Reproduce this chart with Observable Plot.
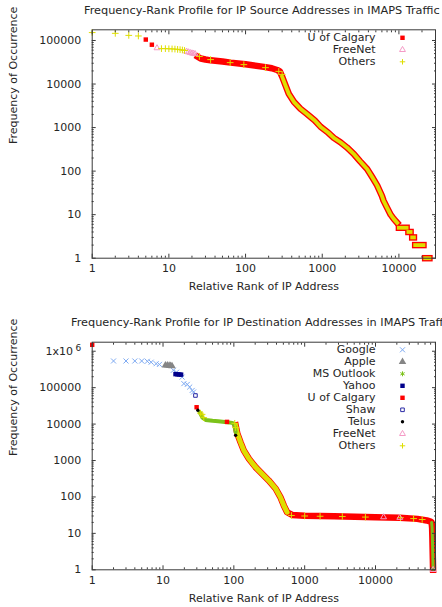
<!DOCTYPE html>
<html><head><meta charset="utf-8">
<script src="https://cdn.jsdelivr.net/npm/d3@7"></script>
<script src="https://cdn.jsdelivr.net/npm/@observablehq/plot@0.6"></script>
<style>
html,body{margin:0;padding:0;background:#fff;overflow:hidden;}
#root{width:442px;overflow:hidden;}
#root svg{display:block;overflow:hidden;}
</style></head><body><div id="root"></div>
<script>
// ---------- Source-address panel ----------
const srcTitle = "Frequency-Rank Profile for IP Source Addresses in IMAPS Traffic";
const srcXTicks = [1, 10, 100, 1000, 10000];
const srcYTicks = [1, 10, 100, 1000, 10000, 100000];
const srcLegend = ["U of Calgary", "FreeNet", "Others"];

const srcCalgaryRank = [5, 6];
const srcCalgaryFreq = [105000, 80000];
const srcFreeNetRank = [7, 17, 18, 19, 20, 21, 22];
const srcFreeNetFreq = [67000, 56000, 54000, 52000, 51000, 50000, 49000];
const srcOthersRank = [1, 2, 3, 4, 8, 9, 10, 11, 12, 13, 14, 15, 16, 25, 35, 63, 95, 182, 271, 300];
const srcOthersFreq = [152000, 146000, 131000, 127000, 65000, 65000, 64500, 64000, 63500, 62500, 61500, 60500, 59000, 43000, 36400, 31000, 27900, 23800, 19500, 16600];
// dense run of overlapping markers (U of Calgary squares under Others crosses)
const srcBandRank = [24, 26, 30, 35, 50, 64, 100, 173, 220, 258, 280, 300, 331, 366, 427, 520, 633, 800, 948, 1200, 1415, 1727, 2100, 2570, 3100, 3850, 4500, 5200, 6000, 6300, 7000, 7800, 8560, 9500,
  10000, 12600, 13300, 14200, 14900, 15700, 16300, 20900, 22000, 25000];
const srcBandFreq = [42000, 38500, 36500, 35000, 33000, 31000, 28500, 24800, 23000, 21000, 19500, 14800, 9400, 6000, 3900, 2700, 2050, 1450, 1050, 760, 580, 460, 350, 250, 170, 112, 72, 47, 27, 21, 14.5, 10, 8, 6.5,
  5, 5, 4, 4, 3, 3, 2, 2, 1, 1];
const srcBandGroup = [0,0,0,0,0,0,0,0,0,0,0,0,0,0,0,0,0,0,0,0,0,0,0,0,0,0,0,0,0,0,0,0,0,0,
  1, 1, 2, 2, 3, 3, 4, 4, 5, 5];

// ---------- Destination-address panel ----------
const dstTitle = "Frequency-Rank Profile for IP Destination Addresses in IMAPS Traffic";
const dstXTicks = [1, 10, 100, 1000, 10000];
const dstYTicks = [1, 10, 100, 1000, 10000, 100000, 1000000];
const dstLegend = ["Google", "Apple", "MS Outlook", "Yahoo", "U of Calgary", "Shaw", "Telus", "FreeNet", "Others"];

const dstCalgaryRank = [1, 29.8, 80];
const dstCalgaryFreq = [1500000, 29000, 11500];
const dstGoogleRank = [2, 3, 4, 5, 6, 6.8, 8, 8.9, 14, 15.5, 18.6, 19.7, 22, 23.8, 25.8, 27];
const dstGoogleFreq = [540000, 540000, 540000, 540000, 530000, 500000, 455000, 435000, 300000, 265000, 195000, 129000, 123000, 104000, 84000, 76000];
const dstAppleRank = [10.8, 11.5, 12.2, 12.8, 13.4];
const dstAppleFreq = [410000, 410000, 405000, 400000, 390000];
const dstYahooRank = [15, 16, 17, 18];
const dstYahooFreq = [235000, 232000, 230000, 228000];
const dstShawRank = [28.7];
const dstShawFreq = [61000];
const dstTelusRank = [31, 106];
const dstTelusFreq = [24000, 4900];
const dstFreeNetRank = [13000, 22000, 65000];
const dstFreeNetFreq = [28, 27, 1];
const dstOthersRank = [33.7, 35.6, 37.6, 103, 106, 650, 1000, 1650, 3400, 7200, 22500, 34500, 45600];
const dstOthersFreq = [20000, 18500, 15000, 10500, 8000, 31, 30, 29.5, 29, 28, 27, 25.5, 24];
// MS Outlook plateau (dense run of green asterisks)
const dstOutlookRank = [33, 36, 40, 50, 60, 80, 95, 100, 103, 106];
const dstOutlookFreq = [21000, 15000, 13000, 12300, 12000, 11300, 10800, 10000, 8500, 6000];
// dense run of overlapping markers (descent, long plateau, final drop)
const dstBandRank = [106, 112, 124, 138, 163, 202, 250, 310, 390, 454, 508, 565, 665, 1000, 2600, 10000, 22000, 39000, 53000, 60000, 62000, 63000, 63500, 64000, 64500, 65000];
const dstBandFreq = [9200, 5450, 3200, 1900, 1120, 660, 434, 284, 168, 99, 58, 38, 32, 30.5, 29.6, 27.9, 26.8, 25, 22.6, 21, 20, 14, 8, 4, 2, 1];

// ---------- styles ----------
const RED = "#ff0000", PINK = "#f59ac6", YEL = "#dede00", BLUE = "#7eaaf2",
      GRAY = "#858585", GREEN = "#7cc21a", NAVY = "#00008b", SHAW = "#2c2ca6", BLACK = "#000";
const INK = "#262626";

const zip = (r, f) => r.map((v, i) => ({r: v, f: f[i]}));
const minorTicks = (ticks, max) => ticks.flatMap(t => [2,3,4,5,6,7,8,9].map(k => k * t)).filter(v => v < max);
const fmtY = d => d >= 1e6 ? "1x10^6" : String(d);

// marker definitions (symbol + size), shared by plot marks and legend
const MK = {
  calgary: {symbol: "square", r: 2.5, fill: RED},
  freenet: {symbol: "triangle2", r: 2.8, stroke: PINK},
  others: {symbol: "plus", r: 1.9, stroke: YEL},
  google: {symbol: "times", r: 2.4, stroke: BLUE},
  apple: {symbol: "triangle", r: 2.8, fill: GRAY},
  outlook: {symbol: "asterisk", r: 2.3, stroke: GREEN},
  yahoo: {symbol: "square", r: 2.5, fill: NAVY},
  shaw: {symbol: "square2", r: 2.3, stroke: SHAW},
  telus: {symbol: "circle", r: 1.7, fill: BLACK}
};
const dotOpts = m => ({symbol: m.symbol, r: m.r, fill: m.fill || "none", stroke: m.stroke || "none", strokeWidth: 1});

function legendMarks(entries, dy0) {
  const out = [];
  entries.forEach((e, i) => {
    out.push(Plot.text([e.label], {frameAnchor: "top-right", lineAnchor: "middle", text: d => d, dx: -60, dy: dy0 + 12 * i, textAnchor: "end", fill: INK, fontSize: 11}));
    out.push(Plot.dot([e.label], {frameAnchor: "top-right", dx: -33, dy: dy0 + 12 * i, ...dotOpts(e.mk)}));
  });
  return out;
}

function panel({title, xMax, yMax, height, marginTop, marginBottom, xTicks, yTicks, marks, legend, legendDy}) {
  const axisColor = "#3a3a3a";
  const axes = [];
  for (const anchor of ["bottom", "top"]) {
    axes.push(Plot.axisX(xTicks, {anchor, tickSize: -4, fill: "none", stroke: axisColor, label: null}));
    axes.push(Plot.axisX(minorTicks(xTicks, xMax), {anchor, tickSize: -2, fill: "none", stroke: axisColor, label: null}));
  }
  for (const anchor of ["left", "right"]) {
    axes.push(Plot.axisY(yTicks, {anchor, tickSize: -4, fill: "none", stroke: axisColor, label: null}));
    axes.push(Plot.axisY(minorTicks(yTicks, yMax), {anchor, tickSize: -2, fill: "none", stroke: axisColor, label: null}));
  }
  axes.push(Plot.axisX(xTicks, {anchor: "bottom", tickSize: 0, tickPadding: 6, label: null, tickFormat: d => String(d), fill: INK}));
  axes.push(Plot.axisY(yTicks, {anchor: "left", tickSize: 0, tickPadding: 11, label: null, tickFormat: fmtY, fill: INK}));

  const svg = Plot.plot({
    width: 442, height,
    marginLeft: 91.7, marginRight: 7, marginTop, marginBottom,
    style: {fontFamily: "DejaVu Sans", fontSize: "11px", color: INK, background: "#fff"},
    x: {type: "log", domain: [1, xMax]},
    y: {type: "log", domain: [1, yMax]},
    marks: [
      ...marks,
      Plot.frame({stroke: axisColor}),
      ...axes,
      Plot.text([title], {frameAnchor: "top", lineAnchor: "middle", text: d => d, dx: -2, dy: -19.4, fill: INK, fontSize: 11.3}),
      Plot.text(["Relative Rank of IP Address"], {frameAnchor: "bottom", lineAnchor: "middle", text: d => d, dy: 28.5, fill: INK, fontSize: 11}),
      Plot.text(["Frequency of Occurrence"], {frameAnchor: "left", lineAnchor: "middle", text: d => d, dx: -78.4, rotate: -90, fill: INK, fontSize: 11}),
      ...legendMarks(legend, legendDy)
    ]
  });
  d3.select(svg).selectAll("text").filter(function () { return this.textContent === "1x10^6"; })
    .each(function () {
      const t = d3.select(this);
      t.text("1x10");
      t.append("tspan").attr("dx", "2.5").attr("dy", "-0.45em").attr("font-size", "9").text("6");
    });
  return svg;
}

// ---------- top panel ----------
const srcBand = srcBandRank.map((r, i) => ({r, f: srcBandFreq[i], g: srcBandGroup[i]}));
const srcChart = panel({
  title: srcTitle, xMax: 30000, yMax: 176000, height: 300, marginTop: 29.3, marginBottom: 42.3,
  xTicks: srcXTicks, yTicks: srcYTicks, legendDy: 8,
  legend: [
    {label: srcLegend[0], mk: MK.calgary},
    {label: srcLegend[1], mk: MK.freenet},
    {label: srcLegend[2], mk: MK.others}
  ],
  marks: [
    Plot.line(srcBand, {x: "r", y: "f", z: "g", stroke: RED, strokeWidth: 6.5, strokeLinecap: "square", strokeLinejoin: "round"}),
    Plot.line(srcBand.filter(d => d.r >= 290), {x: "r", y: "f", z: "g", stroke: YEL, strokeWidth: 3.8, strokeLinecap: "square", strokeLinejoin: "round"}),
    Plot.dot(zip(srcCalgaryRank, srcCalgaryFreq), {x: "r", y: "f", ...dotOpts(MK.calgary)}),
    Plot.dot(zip(srcFreeNetRank, srcFreeNetFreq), {x: "r", y: "f", ...dotOpts(MK.freenet)}),
    Plot.dot(zip(srcOthersRank, srcOthersFreq), {x: "r", y: "f", ...dotOpts(MK.others), r: 2.3})
  ]
});

// ---------- bottom panel ----------
const dstBand = zip(dstBandRank, dstBandFreq);
const dstChart = panel({
  title: dstTitle, xMax: 70300, yMax: 1770000, height: 307, marginTop: 41.7, marginBottom: 37.7,
  xTicks: dstXTicks, yTicks: dstYTicks, legendDy: 7.6,
  legend: [
    {label: dstLegend[0], mk: MK.google},
    {label: dstLegend[1], mk: MK.apple},
    {label: dstLegend[2], mk: MK.outlook},
    {label: dstLegend[3], mk: MK.yahoo},
    {label: dstLegend[4], mk: MK.calgary},
    {label: dstLegend[5], mk: MK.shaw},
    {label: dstLegend[6], mk: MK.telus},
    {label: dstLegend[7], mk: MK.freenet},
    {label: dstLegend[8], mk: MK.others}
  ],
  marks: [
    Plot.line(dstBand, {x: "r", y: "f", stroke: RED, strokeWidth: 6.5, strokeLinecap: "square", strokeLinejoin: "round"}),
    Plot.line(dstBand.filter(d => d.r <= 600), {x: "r", y: "f", stroke: YEL, strokeWidth: 5, strokeLinecap: "round", strokeLinejoin: "round"}),
    Plot.line(dstBand.filter(d => d.r >= 62000), {x: "r", y: "f", stroke: GREEN, strokeWidth: 3, strokeLinejoin: "round"}),
    Plot.line(zip(dstOutlookRank, dstOutlookFreq), {x: "r", y: "f", stroke: GREEN, strokeWidth: 4, strokeLinejoin: "round"}),
    Plot.dot(zip(dstGoogleRank, dstGoogleFreq), {x: "r", y: "f", ...dotOpts(MK.google)}),
    Plot.dot(zip(dstAppleRank, dstAppleFreq), {x: "r", y: "f", ...dotOpts(MK.apple)}),
    Plot.dot(zip(dstYahooRank, dstYahooFreq), {x: "r", y: "f", ...dotOpts(MK.yahoo)}),
    Plot.dot(zip(dstShawRank, dstShawFreq), {x: "r", y: "f", ...dotOpts(MK.shaw)}),
    Plot.dot(zip(dstCalgaryRank, dstCalgaryFreq), {x: "r", y: "f", ...dotOpts(MK.calgary)}),
    Plot.dot(zip(dstOthersRank, dstOthersFreq), {x: "r", y: "f", ...dotOpts(MK.others), r: 2.3}),
    Plot.dot(zip(dstFreeNetRank, dstFreeNetFreq), {x: "r", y: "f", ...dotOpts(MK.freenet)}),
    Plot.dot(zip(dstTelusRank, dstTelusFreq), {x: "r", y: "f", ...dotOpts(MK.telus)})
  ]
});

const root = document.getElementById("root");
root.appendChild(srcChart);
root.appendChild(dstChart);
</script>
</body></html>
